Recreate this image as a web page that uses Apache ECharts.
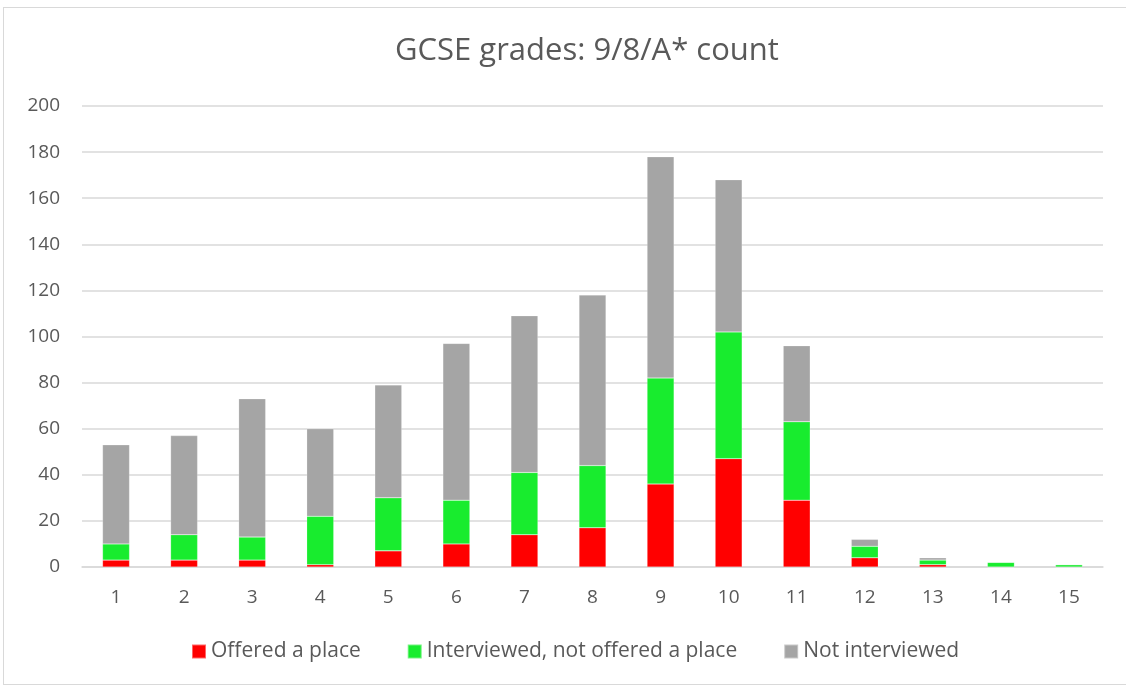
<!DOCTYPE html>
<html>
<head>
<meta charset="utf-8">
<script src="https://cdn.jsdelivr.net/npm/echarts@6/dist/echarts.min.js"></script>
<style>
  html, body { margin: 0; padding: 0; background: #fff; }
  #frame { position: absolute; left: 3px; top: 7px; width: 1140px; height: 676px; border: 1px solid #d9d9d9; }
  #chart { position: absolute; left: 0; top: 0; width: 1126px; height: 686px; }
</style>
</head>
<body>
<div id="frame"></div>
<div id="chart"></div>
<script>
const categories = ['1', '2', '3', '4', '5', '6', '7', '8', '9', '10', '11', '12', '13', '14', '15'];
const offered = [3, 3, 3, 1, 7, 10, 14, 17, 36, 47, 29, 4, 1, 0, 0];
const interviewed = [7, 11, 10, 21, 23, 19, 27, 27, 46, 55, 34, 5, 2, 2, 1];
const notInterviewed = [43, 43, 60, 38, 49, 68, 68, 74, 96, 66, 33, 3, 1, 0, 0];

const textColor = '#595959';
const fontFamily = 'Open Sans, sans-serif';

function renderChart() {
    const chart = echarts.init(document.getElementById('chart'));

    const makeSeries = (name, data, color) => ({
        name: name,
        type: 'bar',
        stack: 'total',
        barWidth: 27,
        itemStyle: { color: color, borderColor: 'rgba(255,255,255,0.4)', borderWidth: 0.5 },
        data: data
    });

    const option = {
        animation: false,
        textStyle: { fontFamily: fontFamily },
        title: {
            text: 'GCSE grades: 9/8/A* count',
            left: 390,
            top: 31,
            textStyle: { color: textColor, fontSize: 31, fontWeight: 'normal', fontFamily: fontFamily }
        },
        legend: {
            bottom: 19,
            left: 186,
            itemWidth: 14,
            itemHeight: 14,
            itemGap: 46,
            icon: 'rect',
            textStyle: { color: textColor, fontSize: 21, fontFamily: fontFamily }
        },
        grid: {
            left: 82,
            right: 23,
            top: 106,
            bottom: 119
        },
        xAxis: {
            type: 'category',
            data: categories,
            axisLine: { lineStyle: { color: '#d9d9d9', width: 1.5 } },
            axisTick: { show: false },
            axisLabel: { color: textColor, fontSize: 19, margin: 21 }
        },
        yAxis: {
            type: 'value',
            min: 0,
            max: 200,
            interval: 20,
            axisLine: { show: false },
            axisTick: { show: false },
            splitLine: { lineStyle: { color: '#d9d9d9', width: 1.5 } },
            axisLabel: { color: textColor, fontSize: 19, margin: 22 }
        },
        series: [
            makeSeries('Offered a place', offered, '#ff0000'),
            makeSeries('Interviewed, not offered a place', interviewed, '#18ec2e'),
            makeSeries('Not interviewed', notInterviewed, '#a5a5a5')
        ]
    };

    chart.setOption(option);
}

document.addEventListener('DOMContentLoaded', renderChart);
</script>
</body>
</html>
